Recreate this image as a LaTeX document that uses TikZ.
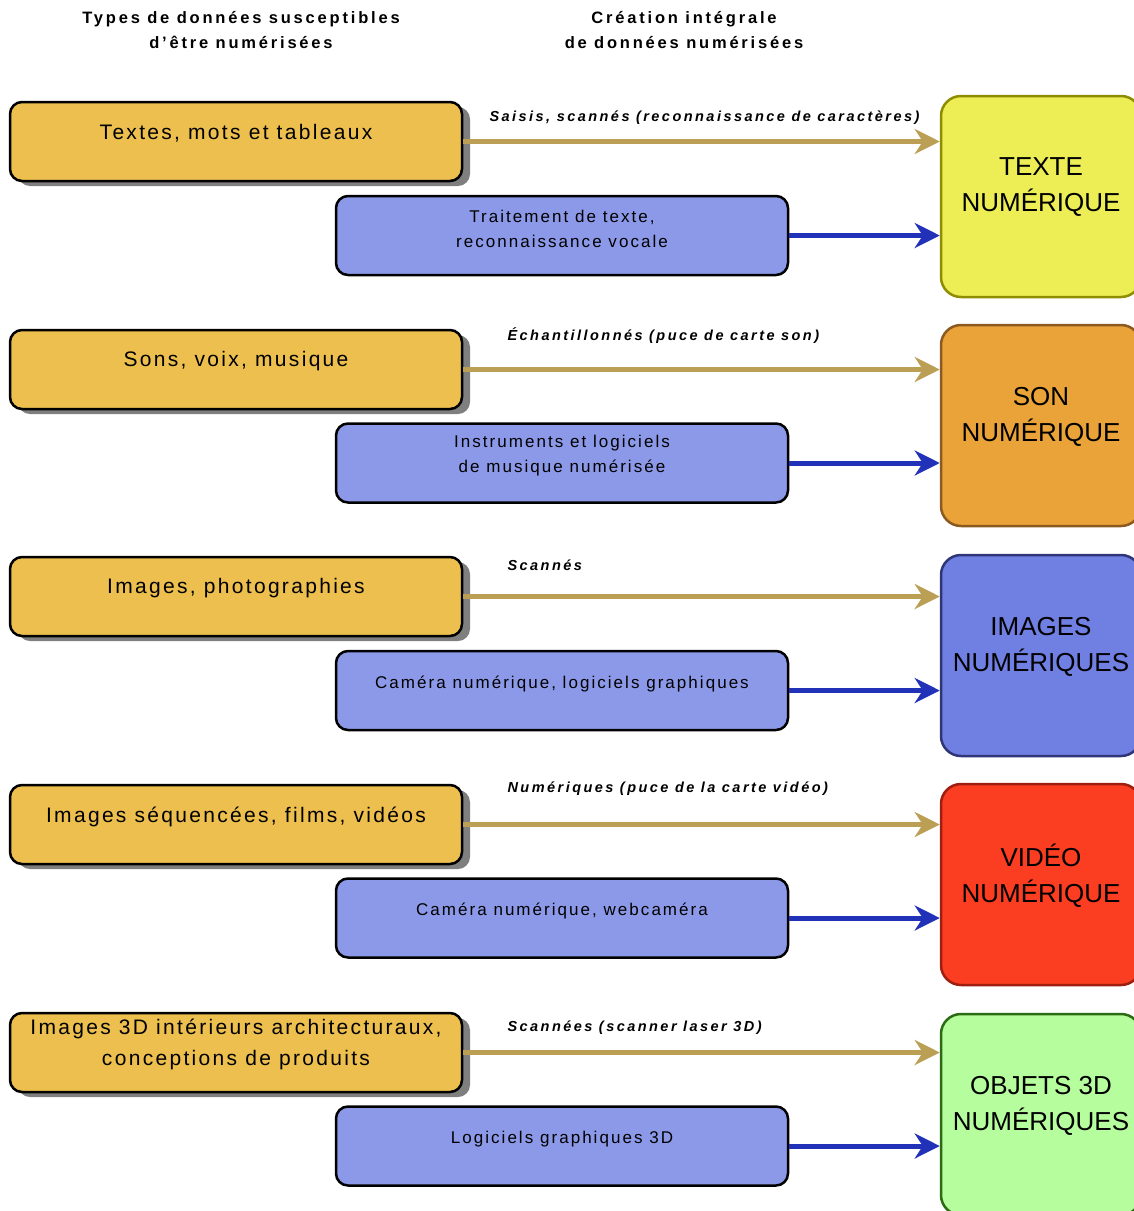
\documentclass[tikz,border=0pt]{standalone}
\usepackage{fontspec}
\setmainfont{Liberation Sans}
\newfontfamily\hdfont[LetterSpace=17]{Liberation Sans}
\newfontfamily\srcfont[LetterSpace=11]{Liberation Sans}
\newfontfamily\toolfont[LetterSpace=12]{Liberation Sans}
\newfontfamily\viafont[LetterSpace=17]{Liberation Sans}
\newfontfamily\dstfont{Liberation Sans}
\usetikzlibrary{arrows.meta,shadows}

\definecolor{srcyellow}{HTML}{ECBF4F}
\definecolor{toolblue}{HTML}{8C99E8}
\definecolor{shadowgray}{HTML}{7F7F7F}
\definecolor{goldline}{HTML}{BB9F55}
\definecolor{blueline}{HTML}{2232B8}
\definecolor{texfill}{HTML}{EDED55}
\definecolor{texdraw}{HTML}{8E8C00}
\definecolor{sonfill}{HTML}{E9A338}
\definecolor{sondraw}{HTML}{8C5A20}
\definecolor{imgfill}{HTML}{707FE2}
\definecolor{imgdraw}{HTML}{2F3678}
\definecolor{vidfill}{HTML}{FB3D21}
\definecolor{viddraw}{HTML}{9E1E10}
\definecolor{objfill}{HTML}{B6FD9D}
\definecolor{objdraw}{HTML}{2B6B12}

\tikzset{
  header/.style={align=center, font=\hdfont\bfseries\fontsize{16.5}{25}\selectfont},
  srcbox/.style={draw=black, line width=2.5pt, rounded corners=12pt, fill=srcyellow,
    minimum width=452pt, minimum height=79pt,
    drop shadow={shadow xshift=8pt, shadow yshift=-5pt, fill=shadowgray, opacity=1}},
  srctxt/.style={align=center, yshift=8pt, font=\srcfont\fontsize{21}{31}\selectfont},
  toolbox/.style={draw=black, line width=2.5pt, rounded corners=12pt, fill=toolblue,
    minimum width=452pt, minimum height=79pt},
  tooltxt/.style={align=center, yshift=7pt, font=\toolfont\fontsize{17}{25}\selectfont},
  dstbox/.style={line width=2.5pt, rounded corners=20pt, minimum width=200pt, minimum height=201pt},
  dsttxt/.style={align=center, yshift=9pt, font=\dstfont\fontsize{26}{36}\selectfont},
  via/.style={anchor=west, font=\viafont\bfseries\itshape\fontsize{14.5}{17}\selectfont},
  goldarrow/.style={draw=goldline, line width=5pt, -{Stealth[length=25pt, width=25pt, inset=8pt]}},
  bluearrow/.style={draw=blueline, line width=5pt, -{Stealth[length=25pt, width=25pt, inset=8pt]}}
}

\begin{document}
\begin{tikzpicture}[x=1pt, y=-1pt]
\useasboundingbox (0,0) rectangle (1134,1211);

% en-tetes
\node[header] (hsrc) at (241,30) {Types de données susceptibles\\d’être numérisées};
\node[header] (htool) at (684,30) {Création intégrale\\de données numérisées};

% colonne de droite
\node[dstbox, draw=texdraw, fill=texfill, label={[dsttxt]center:TEXTE\\NUMÉRIQUE}] (dst1) at (1041,196.5) {};
\node[dstbox, draw=sondraw, fill=sonfill, label={[dsttxt]center:SON\\NUMÉRIQUE}] (dst2) at (1041,425.5) {};
\node[dstbox, draw=imgdraw, fill=imgfill, label={[dsttxt]center:IMAGES\\NUMÉRIQUES}] (dst3) at (1041,655.5) {};
\node[dstbox, draw=viddraw, fill=vidfill, label={[dsttxt]center:VIDÉO\\NUMÉRIQUE}] (dst4) at (1041,884.5) {};
\node[dstbox, draw=objdraw, fill=objfill, label={[dsttxt]center:OBJETS 3D\\NUMÉRIQUES}] (dst5) at (1041,1114.5) {};

% donnees de depart
\node[srcbox, label={[srctxt]center:Textes, mots et tableaux}] (src1) at (236,141.5) {};
\node[srcbox, label={[srctxt]center:Sons, voix, musique}] (src2) at (236,369.5) {};
\node[srcbox, label={[srctxt]center:Images, photographies}] (src3) at (236,596.5) {};
\node[srcbox, label={[srctxt]center:Images séquencées, films, vidéos}] (src4) at (236,824.5) {};
\node[srcbox, label={[srctxt]center:Images 3D intérieurs architecturaux,\\conceptions de produits}] (src5) at (236,1052.5) {};

% creation directe
\node[toolbox, label={[tooltxt]center:Traitement de texte,\\reconnaissance vocale}] (tool1) at (562,235.5) {};
\node[toolbox, label={[tooltxt]center:Instruments et logiciels\\de musique numérisée}] (tool2) at (562,463) {};
\node[toolbox, label={[tooltxt]center:Caméra numérique, logiciels graphiques}] (tool3) at (562,690.5) {};
\node[toolbox, label={[tooltxt]center:Caméra numérique, webcaméra}] (tool4) at (562,918) {};
\node[toolbox, label={[tooltxt]center:Logiciels graphiques 3D}] (tool5) at (562,1146) {};

% fleches
\draw[goldarrow] (src1.east) -- (src1 -| dst1.west);
\draw[bluearrow] (tool1.east) -- (tool1 -| dst1.west);
\draw[goldarrow] (src2.east) -- (src2 -| dst2.west);
\draw[bluearrow] (tool2.east) -- (tool2 -| dst2.west);
\draw[goldarrow] (src3.east) -- (src3 -| dst3.west);
\draw[bluearrow] (tool3.east) -- (tool3 -| dst3.west);
\draw[goldarrow] (src4.east) -- (src4 -| dst4.west);
\draw[bluearrow] (tool4.east) -- (tool4 -| dst4.west);
\draw[goldarrow] (src5.east) -- (src5 -| dst5.west);
\draw[bluearrow] (tool5.east) -- (tool5 -| dst5.west);

% procedes
\node[via] (via1) at (486,118) {Saisis, scannés (reconnaissance de caractères)};
\node[via] (via2) at (504,336) {Échantillonnés (puce de carte son)};
\node[via] (via3) at (504,565) {Scannés};
\node[via] (via4) at (504,789) {Numériques (puce de la carte vidéo)};
\node[via] (via5) at (504,1028) {Scannées (scanner laser 3D)};
\end{tikzpicture}
\end{document}
